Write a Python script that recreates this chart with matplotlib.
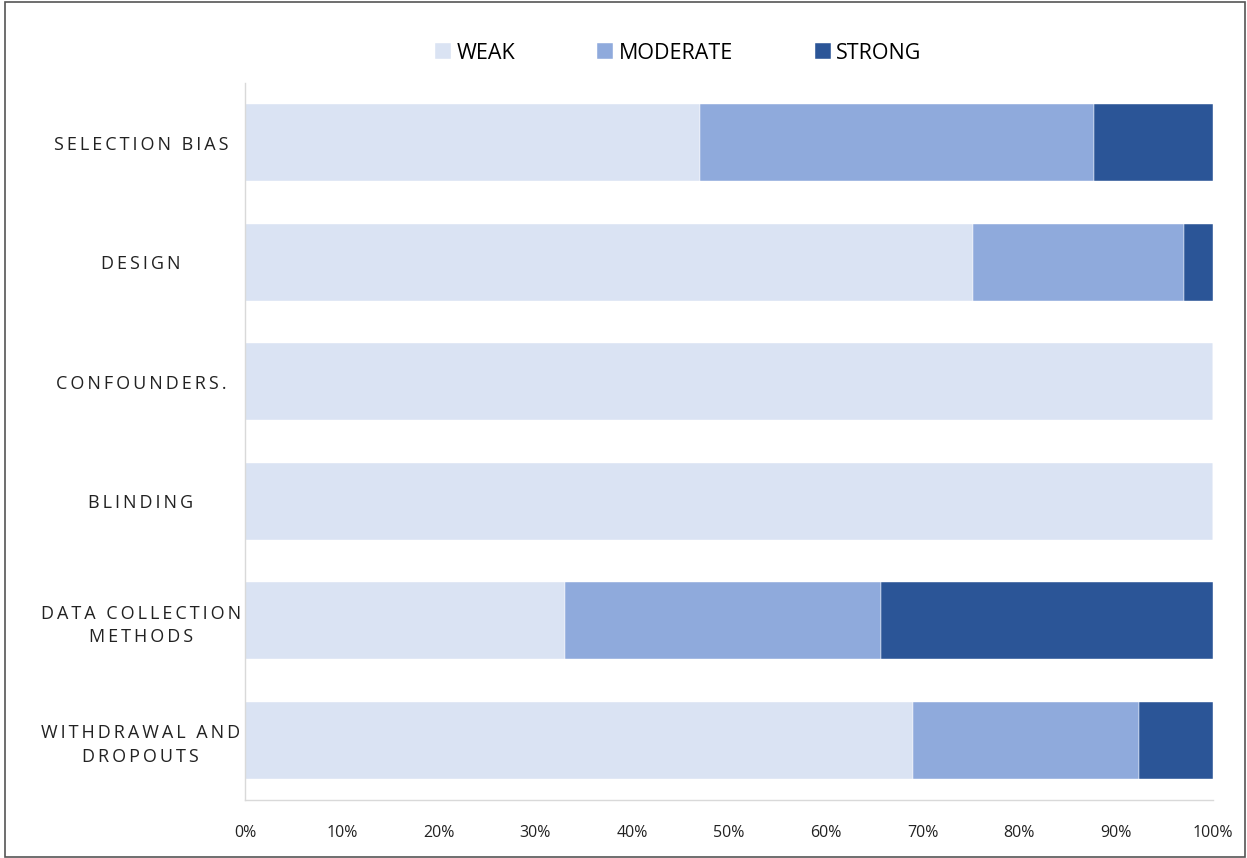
import matplotlib.pyplot as plt
from matplotlib.patches import Rectangle

# quality assessment ratings (percent of studies)
categories = ['SELECTION BIAS', 'DESIGN', 'CONFOUNDERS.', 'BLINDING',
              'DATA COLLECTION\nMETHODS', 'WITHDRAWAL AND\nDROPOUTS']
weak = [47.0, 75.2, 100.0, 100.0, 33.1, 69.0]
moderate = [40.7, 21.8, 0.0, 0.0, 32.6, 23.4]
strong = [12.3, 3.0, 0.0, 0.0, 34.3, 7.6]
series_names = ['WEAK', 'MODERATE', 'STRONG']
colors = ['#DAE3F3', '#8FAADC', '#2B5597']
xticks = list(range(0, 101, 10))


def spaced(s):
    # imitate the letter spacing of the category labels
    return '\n'.join('\u2009'.join(line) for line in s.split('\n'))


plt.rcParams['font.family'] = ['Open Sans', 'DejaVu Sans']

fig = plt.figure(figsize=(12.47, 8.58), dpi=100)
ax = fig.add_axes([0.1965, 0.0676, 0.7762, 0.8357])

y = list(range(len(categories)))
left = [0.0] * len(categories)
for name, vals, c in zip(series_names, [weak, moderate, strong], colors):
    ax.barh(y, vals, left=left, height=0.645, color=c, label=name,
            edgecolor='white', linewidth=0.3)
    left = [l + v for l, v in zip(left, vals)]

ax.set_xlim(0, 100)
ax.set_ylim(len(categories) - 0.5, -0.5)
ax.set_yticks(y)
ax.set_yticklabels([spaced(c) for c in categories], fontsize=13,
                   color='#222222', ha='center', linespacing=1.4)
ax.tick_params(axis='y', length=0, pad=75)
ax.set_xticks(xticks)
ax.set_xticklabels([f'{t}%' for t in xticks], fontsize=11.5, color='#222222')
ax.tick_params(axis='x', length=0, pad=18)

for side in ['top', 'right']:
    ax.spines[side].set_visible(False)
for side in ['left', 'bottom']:
    ax.spines[side].set_color('#D9D9D9')
    ax.spines[side].set_linewidth(1)

fig.legend(loc='center', bbox_to_anchor=(0.544, 0.938), ncol=3, frameon=False,
           fontsize=15.5, handlelength=0.75, handleheight=0.75,
           handletextpad=0.25, columnspacing=3.8)

fig.patches.append(Rectangle((0.004, 0.001), 0.994, 0.997, transform=fig.transFigure,
                             fill=False, edgecolor='#555555', linewidth=1.2))

fig.savefig('out.png', dpi=100)
